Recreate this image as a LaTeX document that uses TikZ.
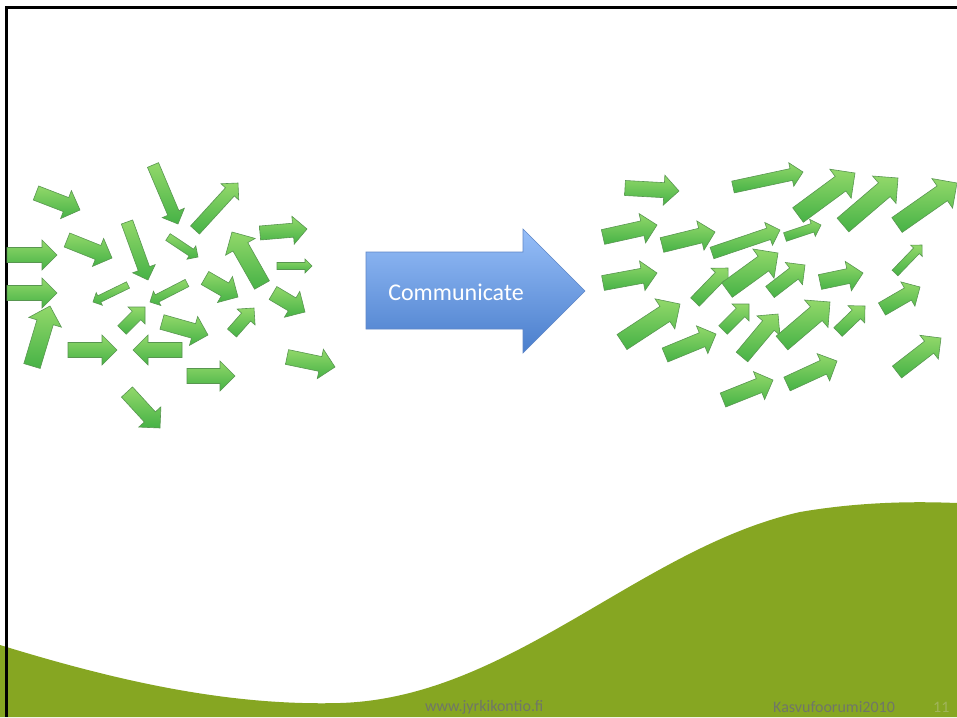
\documentclass[tikz,border=0pt]{standalone}
\usepackage{fontspec}
\setmainfont{Carlito}
\definecolor{gL}{RGB}{146,216,106}
\definecolor{gD}{RGB}{70,178,70}
\definecolor{gE}{RGB}{88,150,80}
\definecolor{bL}{RGB}{150,190,248}
\definecolor{bD}{RGB}{74,126,204}
\definecolor{bE}{RGB}{95,135,200}
\definecolor{ground}{RGB}{134,166,34}
\definecolor{foot}{RGB}{112,118,104}
\definecolor{pagenum}{RGB}{160,180,90}
\tikzset{
  garrow/.style={top color=gL, bottom color=gD, draw=gE, line width=0.6pt, line join=miter},
  barrow/.style={top color=bL, bottom color=bD, draw=bE, line width=0.6pt},
  foottext/.style={text=foot, font=\fontsize{16}{18}\selectfont, inner sep=0pt, anchor=west},
}
\newcommand\garr[5]{%
  \pgfmathsetmacro\aang{atan2(#2-#4,#3-#1)}%
  \pgfmathsetmacro\alen{veclen(#3-#1,#4-#2)}%
  \pgfmathsetmacro\ahw{#5/2}%
  \pgfmathsetmacro\ahb{\alen-#5}%
  \path[garrow,shift={(#1,#2)},rotate=\aang] (0,-\ahw) -- (\ahb,-\ahw) -- (\ahb,-#5) -- (\alen,0) -- (\ahb,#5) -- (\ahb,\ahw) -- (0,\ahw) -- cycle;}
\begin{document}
\begin{tikzpicture}[x=1pt,y=-1pt]
\useasboundingbox (0,0) rectangle (957,717);
\fill[white] (0,0) rectangle (957,717);
% ground
\fill[ground] (0,645) .. controls (120,682) and (230,706) .. (340,703)
  .. controls (510,698) and (640,548) .. (800,512)
  .. controls (870,500) and (930,502) .. (957,503) -- (957,717) -- (0,717) -- cycle;
% border
\fill[black] (5,6) rectangle (957,9);
\fill[black] (5,6) rectangle (8,717);
% left cluster
\garr{36}{193}{80}{210}{15}
\garr{7}{255}{57}{255}{15}
\garr{7}{293}{57}{293}{15}
\garr{32}{366}{50}{306}{17}
\garr{67}{240}{112}{258}{15}
\garr{127}{222}{148}{280}{12}
\garr{153}{165}{178}{224}{12}
\garr{195}{230}{238}{183}{12}
\garr{168}{237}{198}{257}{8}
\garr{260}{233}{307}{229}{14}
\garr{277}{266}{312}{266}{7}
\garr{262}{285}{232}{232}{17}
\garr{273}{293}{305}{312}{15}
\garr{205}{278}{238}{297}{15}
\garr{128}{285}{93}{302}{7}
\garr{187}{283}{150}{302}{8}
\garr{122}{330}{145}{307}{12}
\garr{162}{322}{208}{335}{15}
\garr{232}{333}{254}{308}{12}
\garr{68}{350}{117}{350}{15}
\garr{182}{350}{133}{350}{15}
\garr{187}{376}{235}{376}{15}
\garr{287}{357}{335}{367}{15}
\garr{127}{392}{160}{428}{15}
% right cluster
\garr{625}{188}{679}{191}{15}
\garr{733}{187}{803}{172}{12}
\garr{798}{215}{855}{173}{18}
\garr{843}{225}{898}{178}{18}
\garr{897}{225}{957}{183}{18}
\garr{603}{237}{657}{225}{15}
\garr{662}{245}{715}{232}{15}
\garr{712}{253}{780}{230}{12}
\garr{785}{237}{821}{225}{9}
\garr{603}{283}{657}{273}{15}
\garr{695}{302}{728}{268}{12}
\garr{727}{290}{778}{253}{18}
\garr{770}{292}{805}{265}{14}
\garr{820}{282}{863}{273}{15}
\garr{895}{273}{922}{245}{8}
\garr{622}{342}{680}{304}{18}
\garr{665}{355}{716}{334}{15}
\garr{723}{330}{749}{304}{12}
\garr{742}{357}{778}{314}{15}
\garr{782}{343}{830}{302}{18}
\garr{838}{332}{865}{306}{12}
\garr{882}{309}{920}{287}{14}
\garr{723}{400}{773}{380}{15}
\garr{787}{384}{837}{361}{15}
\garr{897}{372}{941}{338}{15}
% communicate arrow
\path[barrow] (366,252) -- (523,252) -- (523,229) -- (585,291) -- (523,353) -- (523,329) -- (366,329) -- cycle;
\node[text=white, font=\fontsize{24}{28}\selectfont, inner sep=0pt] (comm) at (456,292) {Communicate};
% footer
\node[foottext] (web) at (425,707) {www.jyrkikontio.fi};
\node[foottext] (event) at (773,707) {Kasvufoorumi2010};
\node[foottext, text=pagenum] (num) at (933,707) {11};
\end{tikzpicture}
\end{document}
